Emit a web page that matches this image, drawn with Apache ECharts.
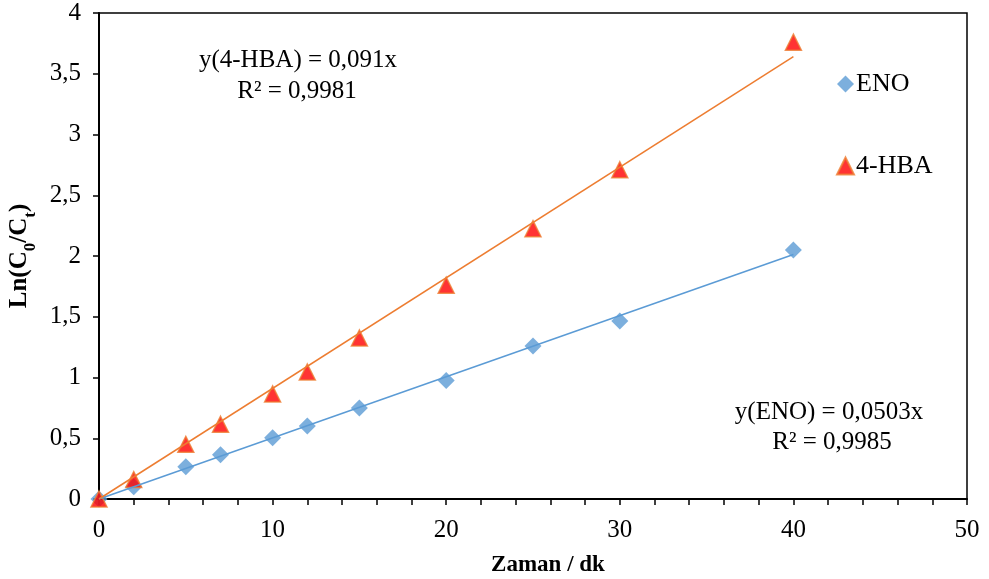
<!DOCTYPE html>
<html>
<head>
<meta charset="utf-8">
<script src="https://cdn.jsdelivr.net/npm/echarts@6/dist/echarts.min.js"></script>
<style>
  html, body { margin: 0; padding: 0; background: #fff; }
  #chart { width: 989px; height: 579px; }
</style>
</head>
<body>
<div id="chart"></div>
<script>
// Reaction time (minutes) and measured ln(C0/Ct) for each compound
const timeMin = [0, 2, 5, 7, 10, 12, 15, 20, 25, 30, 40];
const enoValues = [0, 0.10, 0.265, 0.365, 0.505, 0.60, 0.75, 0.975, 1.26, 1.465, 2.05];
const hbaValues = [0, 0.16, 0.45, 0.615, 0.865, 1.045, 1.325, 1.76, 2.225, 2.71, 3.76];

// Linear fits through the origin
const enoSlope = 0.0503;
const hbaSlope = 0.091;
const enoR2 = 0.9985;
const hbaR2 = 0.9981;
const fitRange = [0, 40];

const seriesNames = ['ENO', '4-HBA'];

const FONT = '"Liberation Serif", "Times New Roman", serif';
const BLUE = '#5B9BD5';
const ORANGE = '#ED7D31';
const TXT = 25;

const comma = v => String(v).replace('.', ',');
const pairs = (xs, ys) => xs.map((x, i) => [x, ys[i]]);
const fitLine = slope => fitRange.map(x => [x, slope * x]);

const note = (text, x, y) => ({
  type: 'text', x: x, y: y,
  style: { text: text, fontFamily: FONT, fontSize: TXT, fill: '#000', align: 'center', verticalAlign: 'middle' }
});

const chart = echarts.init(document.getElementById('chart'));

chart.setOption({
  animation: false,
  backgroundColor: '#fff',
  textStyle: { fontFamily: FONT },
  grid: {
    left: 99, right: 22, top: 13, bottom: 80,
    outerBoundsMode: 'none', containLabel: false,
    show: true, borderColor: '#000', borderWidth: 1.5
  },
  legend: {
    data: seriesNames,
    orient: 'vertical',
    left: 831, top: 66,
    itemGap: 56,
    itemWidth: 17, itemHeight: 17,
    textStyle: { fontFamily: FONT, fontSize: TXT + 1, color: '#000', padding: [0, 0, 0, -3] }
  },
  xAxis: {
    type: 'value', min: 0, max: 50, interval: 10,
    name: 'Zaman / dk', nameLocation: 'middle', nameGap: 55,
    nameTextStyle: { fontFamily: FONT, fontSize: 23, fontWeight: 'bold', color: '#000', padding: [0, 0, 0, 30] },
    axisLine: { show: true, onZero: false, lineStyle: { color: '#000', width: 2 } },
    axisTick: { show: true, inside: false, length: 6, lineStyle: { color: '#000', width: 1.5 } },
    minorTick: { show: true, splitNumber: 5, length: 6, lineStyle: { color: '#000', width: 1.5 } },
    axisLabel: { fontFamily: FONT, fontSize: TXT, color: '#000', margin: 19 },
    splitLine: { show: false }
  },
  yAxis: {
    type: 'value', min: 0, max: 4, interval: 0.5,
    name: '{a|Ln(C}{s|0}{a|/C}{s|t}{a|)}',
    nameLocation: 'middle', nameGap: 64, nameRotate: 90,
    nameTextStyle: {
      rich: {
        a: { fontFamily: FONT, fontSize: 25, fontWeight: 'bold', color: '#000', verticalAlign: 'bottom' },
        s: { fontFamily: FONT, fontSize: 17, fontWeight: 'bold', color: '#000', verticalAlign: 'bottom', padding: [0, 0, -7, 0] }
      }
    },
    axisLine: { show: true, onZero: false, lineStyle: { color: '#000', width: 2 } },
    axisTick: { show: true, inside: false, length: 6, lineStyle: { color: '#000', width: 1.5 } },
    axisLabel: { fontFamily: FONT, fontSize: TXT, color: '#000', margin: 18, formatter: v => comma(v) },
    splitLine: { show: false }
  },
  series: [
    {
      name: 'ENO', type: 'scatter', data: pairs(timeMin, enoValues),
      symbol: 'diamond', symbolSize: 17,
      itemStyle: { color: BLUE }, z: 3
    },
    {
      name: '4-HBA', type: 'scatter', data: pairs(timeMin, hbaValues),
      symbol: 'triangle', symbolSize: 16,
      itemStyle: { color: '#FF0000', borderColor: ORANGE, borderWidth: 1.5 }, z: 3
    },
    {
      name: 'ENO fit', type: 'line', data: fitLine(enoSlope),
      symbol: 'none', lineStyle: { color: BLUE, width: 1.5 }, z: 4, silent: true
    },
    {
      name: '4-HBA fit', type: 'line', data: fitLine(hbaSlope),
      symbol: 'none', lineStyle: { color: ORANGE, width: 1.5 }, z: 4, silent: true
    }
  ],
  graphic: [
    note('y(4-HBA) = ' + comma(hbaSlope) + 'x', 298, 60),
    note('R² = ' + comma(hbaR2), 297, 91),
    note('y(ENO) = ' + comma(enoSlope) + 'x', 829, 412),
    note('R² = ' + comma(enoR2), 832, 442)
  ]
});
</script>
</body>
</html>
